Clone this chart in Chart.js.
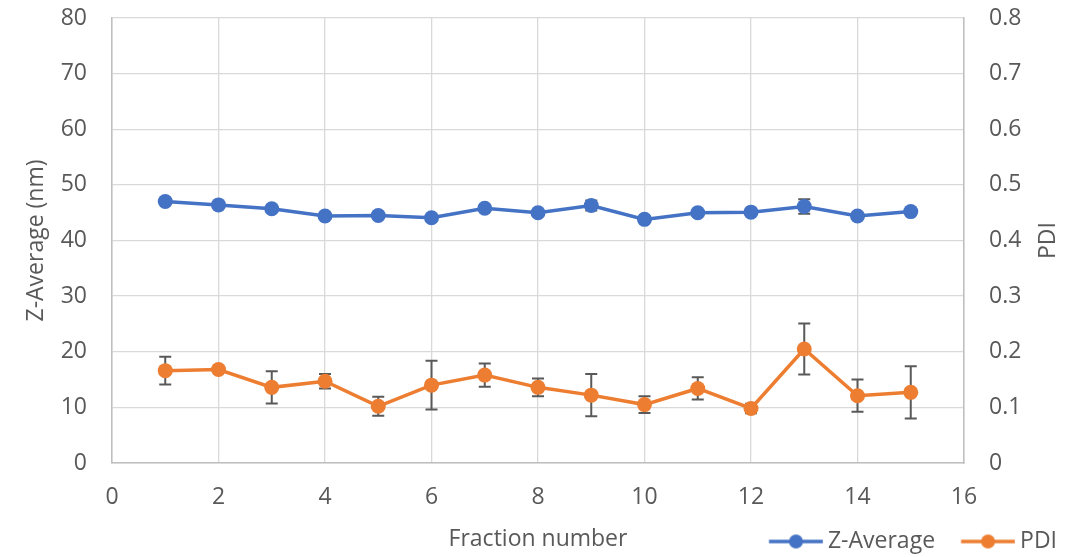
<!DOCTYPE html>
<html>
<head>
<meta charset="utf-8">
<title>Z-Average and PDI by fraction</title>
<script src="https://cdn.jsdelivr.net/npm/chart.js@4.4.1/dist/chart.umd.min.js"></script>
<style>
    html, body { margin: 0; padding: 0; background: #ffffff; }
    #chart { display: block; }
</style>
</head>
<body>
<canvas id="chart" width="1082" height="557"></canvas>
<script>
// values
const fractions = [1, 2, 3, 4, 5, 6, 7, 8, 9, 10, 11, 12, 13, 14, 15];
const zAverage = [47.0, 46.4, 45.7, 44.4, 44.5, 44.1, 45.8, 45.0, 46.3, 43.8, 45.0, 45.1, 46.1, 44.4, 45.2];
const zAverageErr = [0.5, 0.5, 0.5, 0.5, 0.5, 0.5, 0.5, 0.5, 0.9, 0.5, 0.5, 0.5, 1.3, 0.5, 0.5];
const pdi = [0.166, 0.168, 0.136, 0.147, 0.102, 0.140, 0.158, 0.136, 0.122, 0.105, 0.134, 0.098, 0.205, 0.121, 0.127];
const pdiErr = [0.025, 0.005, 0.029, 0.013, 0.017, 0.044, 0.021, 0.016, 0.038, 0.015, 0.020, 0.0085, 0.046, 0.029, 0.047];

const BLUE = '#4472C4';
const ORANGE = '#ED7D31';
const TEXT = '#595959';
const FONT = { family: '"Open Sans", sans-serif', size: 23 };

// legend swatch geometry: line starts SW_LEFT px into the item box
const SW_LEFT = 10;
const SW_BOX = 57.5;
const SW_LINE = 54;

// line + marker swatch for the legend
function legendSwatch(color) {
    const half = Math.max(SW_BOX / 2 - SW_LEFT, SW_LEFT + SW_LINE - SW_BOX / 2);
    const c = document.createElement('canvas');
    c.width = Math.ceil(half * 2);
    c.height = 16;
    const start = c.width / 2 - (SW_BOX / 2 - SW_LEFT);
    const g = c.getContext('2d');
    g.strokeStyle = color;
    g.lineWidth = 3.5;
    g.beginPath();
    g.moveTo(start, 8);
    g.lineTo(start + SW_LINE, 8);
    g.stroke();
    g.fillStyle = color;
    g.beginPath();
    g.arc(start + SW_LINE / 2, 8, 7, 0, Math.PI * 2);
    g.fill();
    return c;
}

const errorBars = {
    id: 'errorBars',
    beforeDatasetsDraw(chart) {
        const ctx = chart.ctx;
        const xScale = chart.scales.x;
        ctx.save();
        ctx.strokeStyle = '#595959';
        ctx.lineWidth = 2;
        chart.data.datasets.forEach((ds) => {
            const yScale = chart.scales[ds.yAxisID];
            ds.errors.forEach((e, i) => {
                const px = xScale.getPixelForValue(fractions[i]);
                const top = yScale.getPixelForValue(ds.data[i].y + e);
                const bottom = yScale.getPixelForValue(ds.data[i].y - e);
                ctx.beginPath();
                ctx.moveTo(px, top);
                ctx.lineTo(px, bottom);
                ctx.moveTo(px - 6, top);
                ctx.lineTo(px + 6, top);
                ctx.moveTo(px - 6, bottom);
                ctx.lineTo(px + 6, bottom);
                ctx.stroke();
            });
        });
        ctx.restore();
    }
};

// right axis title reads bottom-to-top like the left one
const rightTitle = {
    id: 'rightTitle',
    afterDraw(chart) {
        const ctx = chart.ctx;
        const area = chart.chartArea;
        ctx.save();
        ctx.translate(1048, (area.top + area.bottom) / 2);
        ctx.rotate(-Math.PI / 2);
        ctx.fillStyle = TEXT;
        ctx.font = FONT.size + 'px ' + FONT.family;
        ctx.textAlign = 'center';
        ctx.textBaseline = 'middle';
        ctx.fillText('PDI', 0, 0);
        ctx.restore();
    }
};

const swatches = { 'Z-Average': legendSwatch(BLUE), 'PDI': legendSwatch(ORANGE) };

new Chart(document.getElementById('chart'), {
    type: 'line',
    data: {
        datasets: [{
            label: 'Z-Average',
            data: fractions.map((f, i) => ({ x: f, y: zAverage[i] })),
            errors: zAverageErr,
            yAxisID: 'y',
            borderColor: BLUE,
            backgroundColor: BLUE,
            borderWidth: 3.5,
            pointRadius: 7.5,
            pointBorderWidth: 0,
            tension: 0
        }, {
            label: 'PDI',
            data: fractions.map((f, i) => ({ x: f, y: pdi[i] })),
            errors: pdiErr,
            yAxisID: 'y2',
            borderColor: ORANGE,
            backgroundColor: ORANGE,
            borderWidth: 3.5,
            pointRadius: 7.5,
            pointBorderWidth: 0,
            tension: 0
        }]
    },
    options: {
        responsive: false,
        animation: false,
        devicePixelRatio: 1,
        layout: { padding: { top: 18, left: 0, right: 9, bottom: -6 } },
        scales: {
            x: {
                type: 'linear',
                min: 0,
                max: 16,
                ticks: { stepSize: 2, color: TEXT, font: FONT, padding: 21 },
                grid: { color: '#d9d9d9', lineWidth: 1.3, drawTicks: false },
                border: { color: '#bfbfbf', width: 1.5 },
                title: {
                    display: true,
                    text: 'Fraction number',
                    color: TEXT,
                    font: FONT,
                    padding: { top: 0, bottom: -39 }
                },
                afterFit(scale) { scale.height = 51; }
            },
            y: {
                position: 'left',
                min: 0,
                max: 80,
                ticks: { stepSize: 10, color: TEXT, font: FONT, padding: 25 },
                grid: { color: '#d9d9d9', lineWidth: 1.3, drawTicks: false },
                border: { color: '#bfbfbf', width: 1.5 },
                title: {
                    display: true,
                    text: 'Z-Average (nm)',
                    color: TEXT,
                    font: FONT,
                    padding: { top: 23, bottom: 0 }
                },
                afterFit(scale) {
                    scale.width = 112;
                    scale.paddingTop = 0;
                    scale.paddingBottom = 0;
                }
            },
            y2: {
                position: 'right',
                min: 0,
                max: 0.8,
                ticks: {
                    stepSize: 0.1,
                    color: TEXT,
                    font: FONT,
                    padding: 25,
                    callback: (v) => (v === 0 ? '0' : v.toFixed(1))
                },
                grid: { display: false, drawTicks: false },
                border: { color: '#bfbfbf', width: 1.5 },
                afterFit(scale) {
                    scale.width = 109;
                    scale.paddingTop = 0;
                    scale.paddingBottom = 0;
                }
            }
        },
        plugins: {
            legend: {
                position: 'bottom',
                align: 'end',
                labels: {
                    color: TEXT,
                    font: FONT,
                    usePointStyle: true,
                    pointStyleWidth: SW_BOX,
                    padding: 16,
                    generateLabels(chart) {
                        const items = Chart.defaults.plugins.legend.labels.generateLabels(chart);
                        items.forEach((it) => { it.pointStyle = swatches[it.text]; });
                        return items;
                    }
                }
            },
            tooltip: { enabled: false }
        }
    },
    plugins: [errorBars, rightTitle]
});
</script>
</body>
</html>
